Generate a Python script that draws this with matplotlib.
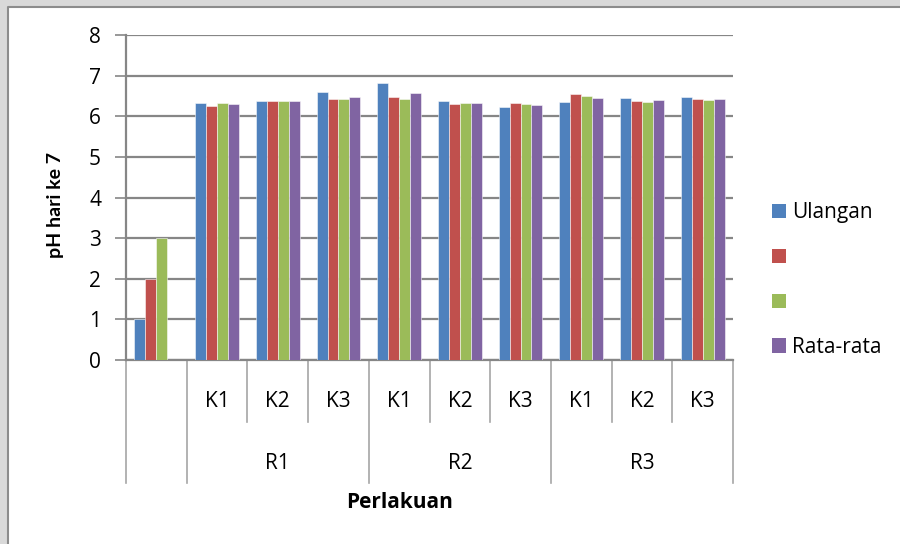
import numpy as np
import matplotlib
matplotlib.use("Agg")
import matplotlib.pyplot as plt
from matplotlib.lines import Line2D
from matplotlib.patches import Patch, Rectangle

# data
inner_labels = ["", "K1", "K2", "K3", "K1", "K2", "K3", "K1", "K2", "K3"]
outer_labels = ["R1", "R2", "R3"]
outer_spans = [(1, 3), (4, 6), (7, 9)]            # category index ranges per R group
series_names = ["Ulangan", "", "", "Rata-rata"]
ulangan1 = [1.00, 6.32, 6.38, 6.59, 6.83, 6.38, 6.22, 6.34, 6.44, 6.48]
ulangan2 = [2.00, 6.26, 6.38, 6.42, 6.48, 6.29, 6.32, 6.54, 6.37, 6.42]
ulangan3 = [3.00, 6.32, 6.38, 6.42, 6.43, 6.32, 6.29, 6.51, 6.35, 6.40]
rata_rata = [np.nan, 6.30, 6.38, 6.47, 6.57, 6.32, 6.27, 6.46, 6.39, 6.43]
colors = ["#4F81BD", "#C0504D", "#9BBB59", "#8064A2"]

W, H = 900, 544
FS = 15
plt.rcParams["font.family"] = ["Open Sans", "DejaVu Sans"]   # horizontal text is wide in the reference
fig = plt.figure(figsize=(W / 100, H / 100), dpi=100, facecolor="#d9d9d9")
# white chart frame (only its left and top edges are inside the picture)
fx, fy = 8 / W, 1 - 7 / H
fig.add_artist(Rectangle((fx, 0), 1 - fx, fy, transform=fig.transFigure,
                         facecolor="white", edgecolor="none", zorder=-2))
fig.add_artist(Line2D([fx, fx, 1], [0, fy, fy], transform=fig.transFigure,
                      color="#8c8c8c", lw=1.5, zorder=-1))

ax = fig.add_axes([126 / W, 1 - 360 / H, (733 - 126) / W, (360 - 35) / H])
ax.set_facecolor("none")

series = [ulangan1, ulangan2, ulangan3, rata_rata]
n = len(series)
bw = 0.18
x = np.arange(len(inner_labels))
for i, (vals, c) in enumerate(zip(series, colors)):
    ax.bar(x + (i - (n - 1) / 2) * bw, vals, width=bw, color=c,
           edgecolor=(1, 1, 1, 0.6), lw=0.6, zorder=3)

ax.set_xlim(-0.5, len(inner_labels) - 0.5)
ax.set_ylim(0, 8)
ax.set_yticks(range(0, 9))
ax.yaxis.grid(True, color="#868686", lw=1.6, zorder=0)
ax.set_axisbelow(True)
ax.tick_params(axis="y", length=8, width=1.2, color="#868686", labelsize=FS, pad=10)
ax.set_xticks([])
for s in ("top", "right"):
    ax.spines[s].set_visible(False)
for s in ("left", "bottom"):
    ax.spines[s].set_color("#868686")
    ax.spines[s].set_linewidth(1.6)

# multi-level category axis
tr = ax.get_xaxis_transform()
major = {-0.5, 0.5} | {b + 0.5 for _, b in outer_spans}
for b in np.arange(-0.5, len(inner_labels), 1.0):
    y1 = -0.378 if b in major else -0.191
    ax.plot([b, b], [0, y1], transform=tr, color="#a6a6a6", lw=1.2, clip_on=False)
for xi, lab in zip(x, inner_labels):
    ax.text(xi, -0.129, lab, transform=tr, ha="center", va="center", fontsize=FS)
for lab, (a, b) in zip(outer_labels, outer_spans):
    ax.text((a + b) / 2, -0.317, lab, transform=tr, ha="center", va="center", fontsize=FS)

fig.text(400 / W, 1 - 503 / H, "Perlakuan", ha="center", va="center", fontsize=FS, fontweight="bold")
fig.text(55 / W, 1 - 205 / H, "pH hari ke 7", ha="center", va="center", rotation=90,
         fontsize=14, fontweight="bold", family=["Lato", "DejaVu Sans"])

handles = [Patch(facecolor=c, edgecolor="none") for c in colors]
ax.legend(handles, series_names, loc="center left", bbox_to_anchor=(772 / W, 1 - 280 / H),
          bbox_transform=fig.transFigure, frameon=False, fontsize=FS, handlelength=0.68,
          handleheight=0.68, handletextpad=0.3, labelspacing=1.15, borderpad=0, borderaxespad=0)

fig.savefig("out.png", dpi=100, facecolor=fig.get_facecolor())
